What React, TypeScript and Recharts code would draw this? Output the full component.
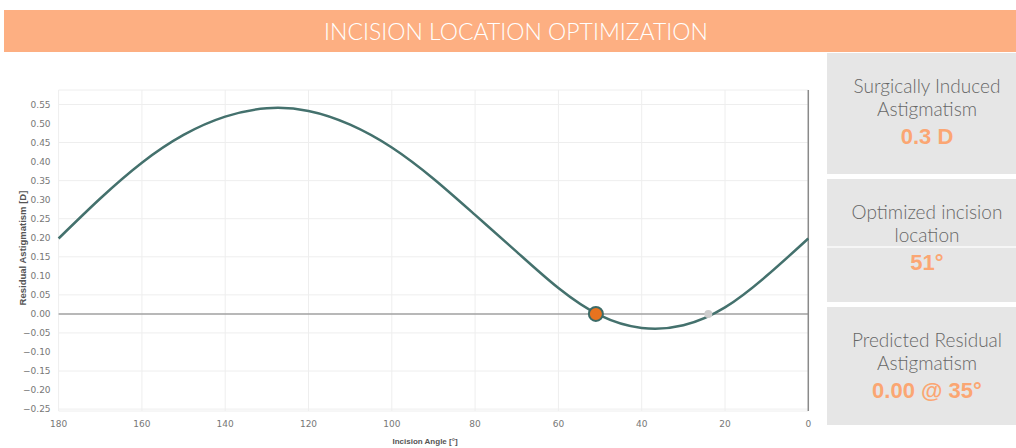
import React from 'react';
import {
  ComposedChart,
  Line,
  XAxis,
  YAxis,
  CartesianGrid,
  ReferenceLine,
  ReferenceDot,
} from 'recharts';

// values, every 10 degrees
const angles = [180, 170, 160, 150, 140, 130, 120, 110, 100, 90, 80, 70, 60, 50, 40, 30, 20, 10, 0];
const residual = [
  0.198, 0.303, 0.397, 0.47, 0.518, 0.54, 0.533, 0.497, 0.437, 0.355,
  0.26, 0.163, 0.068, -0.004, -0.037, -0.03, 0.017, 0.1, 0.198,
];

const xTicks = [180, 160, 140, 120, 100, 80, 60, 40, 20, 0];
const yTicks = [-0.25, -0.2, -0.15, -0.1, -0.05, 0, 0.05, 0.1, 0.15, 0.2, 0.25, 0.3, 0.35, 0.4, 0.45, 0.5, 0.55];

const optimizedAngle = 51;
const secondZeroAngle = 24;

const panels = [
  { lines: ['Surgically Induced', 'Astigmatism'], value: '0.3 D' },
  { lines: ['Optimized incision', 'location'], value: '51°' },
  { lines: ['Predicted Residual', 'Astigmatism'], value: '0.00 @ 35°' },
];

const chartData = angles.map((a, i) => ({ angle: a, residual: residual[i] }));

const fmtY = (v: number) => (v < 0 ? '\u2212' + Math.abs(v).toFixed(2) : v.toFixed(2));

const panelTops = [53, 179, 307];
const panelHeights = [121, 123, 118];

export default function App() {
  return (
    <div
      style={{
        position: 'absolute',
        left: 0,
        top: 0,
        width: 1016,
        height: 448,
        overflow: 'hidden',
        background: '#fff',
      }}
    >
      <div
        style={{
          position: 'absolute',
          left: 4,
          top: 10,
          width: 1024,
          height: 42,
          background: '#fdaf82',
          color: '#fff',
          fontFamily: 'Lato, "Open Sans", sans-serif',
          fontWeight: 300,
          fontSize: 23,
          lineHeight: '42px',
          textAlign: 'center',
        }}
      >
        INCISION LOCATION OPTIMIZATION
      </div>

      <div style={{ position: 'absolute', left: 0, top: 0 }}>
        <ComposedChart
          width={830}
          height={448}
          data={chartData}
          margin={{ top: 90, right: 21.7, bottom: 7, left: 0 }}
        >
          <CartesianGrid stroke="#eeeeee" strokeWidth={1} />
          <XAxis
            dataKey="angle"
            type="number"
            domain={[0, 180]}
            reversed
            ticks={xTicks}
            axisLine={false}
            tickLine={false}
            tickSize={0}
            tickMargin={10}
            height={30}
            tick={{ fill: '#777', fontSize: 9, fontFamily: '"DejaVu Sans", sans-serif' }}
          />
          <YAxis
            type="number"
            domain={[-0.255, 0.588]}
            ticks={yTicks}
            allowDataOverflow
            axisLine={false}
            tickLine={false}
            tickSize={0}
            tickMargin={8}
            width={58.6}
            tickFormatter={fmtY}
            tick={{ fill: '#777', fontSize: 9, fontFamily: '"DejaVu Sans", sans-serif' }}
          />
          <ReferenceLine y={0} stroke="#a0a0a0" strokeWidth={1.5} />
          <ReferenceLine x={0} stroke="#8a8a8a" strokeWidth={1.5} />
          <Line
            type="natural"
            dataKey="residual"
            stroke="#44716d"
            strokeWidth={2.5}
            dot={false}
            isAnimationActive={false}
          />
          <ReferenceDot x={secondZeroAngle} y={0} r={4} fill="#cdcdcd" stroke="none" />
          <ReferenceDot x={optimizedAngle} y={0} r={7} fill="#e8731f" stroke="#3d6b67" strokeWidth={2} />
        </ComposedChart>
      </div>

      <div
        style={{
          position: 'absolute',
          left: 325,
          top: 435,
          width: 200,
          textAlign: 'center',
          fontFamily: '"Liberation Sans", Arial, sans-serif',
          fontWeight: 700,
          fontSize: 8,
          lineHeight: '14px',
          color: '#555',
        }}
      >
        Incision Angle [°]
      </div>
      <div
        style={{
          position: 'absolute',
          left: 23 - 100,
          top: 248 - 7,
          width: 200,
          textAlign: 'center',
          transform: 'rotate(-90deg)',
          fontFamily: '"Liberation Sans", Arial, sans-serif',
          fontWeight: 700,
          fontSize: 9.5,
          lineHeight: '14px',
          color: '#555',
        }}
      >
        Residual Astigmatism [D]
      </div>

      {panels.map((p, i) => (
        <div
          key={i}
          style={{
            position: 'absolute',
            left: 827,
            top: panelTops[i],
            width: 200,
            height: panelHeights[i],
            background: '#e6e6e6',
            textAlign: 'center',
          }}
        >
          {p.lines.map((t, j) => (
            <div
              key={j}
              style={{
                position: 'absolute',
                left: 0,
                width: 200,
                top: 33 + j * 23 - 12,
                height: 24,
                lineHeight: '24px',
                fontFamily: 'Lato, "Open Sans", sans-serif',
                fontWeight: 300,
                fontSize: 19,
                color: '#666',
              }}
            >
              {t}
            </div>
          ))}
          {i === 1 && (
            <div
              style={{ position: 'absolute', left: 0, width: 200, top: 67, height: 2, background: '#f6f6f6' }}
            />
          )}
          <div
            style={{
              position: 'absolute',
              left: 0,
              width: 200,
              top: 84 - 13,
              height: 26,
              lineHeight: '26px',
              fontFamily: '"Liberation Sans", Arial, sans-serif',
              fontWeight: 700,
              fontSize: 22,
              color: '#fba673',
            }}
          >
            {p.value}
          </div>
        </div>
      ))}
    </div>
  );
}
